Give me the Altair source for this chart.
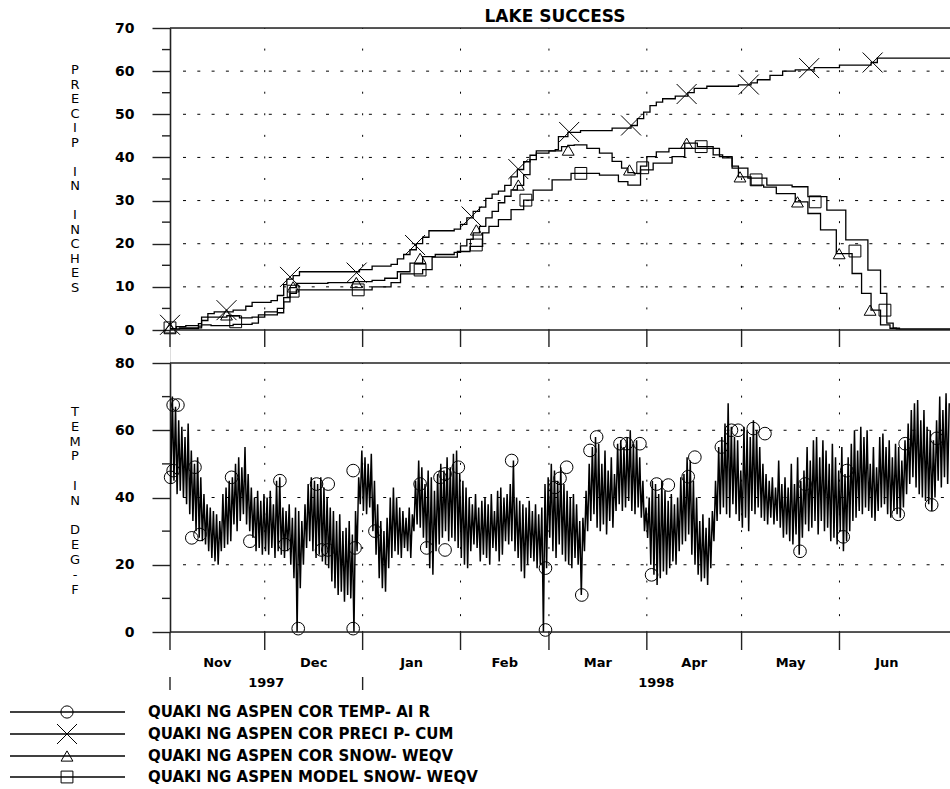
import altair as alt
import pandas as pd

# ---------------- data ----------------
# day index 0 = 1 Nov 1997
TMAX = [70, 67, 63, 61, 58, 62, 54, 50, 52, 46,
        41, 38, 37, 36, 35, 33, 41, 43, 45, 46,
        50, 52, 49, 55, 47, 43, 40, 42, 39, 41,
        40, 42, 38, 45, 46, 37, 36, 38, 34, 37,
        36, 33, 38, 44, 46, 45, 44, 46, 43, 40,
        37, 36, 33, 35, 30, 31, 33, 29, 36, 46,
        54, 52, 50, 53, 45, 38, 33, 30, 34, 40,
        43, 40, 37, 36, 34, 37, 35, 45, 51, 49,
        44, 48, 46, 42, 47, 50, 48, 52, 49, 53,
        54, 47, 45, 43, 40, 38, 41, 37, 39, 40,
        38, 41, 36, 42, 43, 40, 41, 44, 51, 40,
        39, 38, 37, 39, 36, 38, 35, 37, 44, 46,
        50, 48, 45, 49, 44, 42, 40, 41, 38, 33,
        34, 42, 50, 55, 58, 56, 50, 54, 48, 52,
        47, 56, 57, 55, 58, 60, 56, 57, 52, 45,
        37, 40, 45, 44, 41, 45, 42, 39, 41, 38,
        40, 46, 47, 52, 51, 45, 40, 33, 35, 31,
        34, 36, 45, 55, 58, 62, 68, 61, 58, 57,
        48, 61, 60, 58, 63, 60, 55, 50, 47, 45,
        46, 43, 51, 44, 46, 43, 50, 44, 52, 45,
        48, 55, 51, 57, 58, 52, 57, 54, 50, 56,
        52, 48, 55, 47, 52, 56, 60, 54, 61, 58,
        60, 50, 55, 49, 58, 59, 55, 57, 52, 56,
        55, 51, 57, 62, 66, 68, 69, 63, 66, 61,
        60, 57, 63, 70, 66, 71, 68]
TMIN = [44, 45, 41, 42, 40, 38, 35, 33, 30, 28,
        27, 26, 24, 22, 21, 20, 24, 25, 26, 27,
        32, 30, 33, 35, 32, 30, 28, 24, 25, 23,
        24, 23, 25, 22, 24, 23, 22, 24, 20, 16,
        0, 13, 20, 25, 27, 24, 22, 23, 21, 20,
        19, 15, 13, 11, 12, 9, 11, 10, 0, 24,
        38, 36, 35, 37, 30, 23, 16, 13, 12, 19,
        22, 24, 23, 22, 25, 24, 22, 30, 32, 31,
        28, 25, 19, 17, 24, 26, 28, 30, 27, 28,
        27, 25, 22, 20, 19, 24, 26, 25, 21, 23,
        22, 20, 25, 24, 21, 23, 27, 26, 27, 24,
        22, 18, 16, 20, 22, 21, 19, 20, 0, 19,
        28, 24, 22, 26, 23, 21, 20, 19, 22, 20,
        11, 24, 30, 33, 35, 31, 30, 32, 29, 33,
        31, 36, 38, 36, 37, 39, 36, 35, 37, 34,
        30, 28, 20, 17, 14, 16, 18, 17, 19, 21,
        20, 24, 26, 27, 29, 23, 20, 17, 15, 16,
        14, 19, 27, 33, 35, 37, 35, 34, 38, 35,
        33, 31, 34, 30, 36, 35, 37, 34, 33, 32,
        34, 32, 33, 31, 28, 29, 27, 26, 29, 23,
        28, 32, 30, 31, 33, 29, 33, 30, 31, 27,
        28, 26, 30, 24, 27, 30, 33, 34, 36, 35,
        37, 36, 34, 33, 36, 37, 38, 35, 34, 36,
        35, 34, 37, 41, 44, 46, 43, 41, 40, 39,
        38, 36, 40, 45, 43, 46, 44]

TEMP_MARK_DAY = [1.0, 1.0, 2.5, 0.2, 6.9, 7.9, 9.5, 19.5, 25.3, 34.8, 36.4, 40.6,
                 46.4, 48.0, 50.1, 50.0, 58.0, 58.0, 58.6, 64.9, 79.2, 81.3, 85.5,
                 87.1, 87.1, 91.3, 108.2, 118.9, 118.9, 121.9, 123.5, 125.6, 130.4,
                 133.0, 135.1, 142.5, 144.6, 148.8, 152.5, 154.1, 157.8, 164.1, 166.2,
                 174.6, 177.8, 179.9, 184.7, 188.4, 199.5, 201.1, 213.2, 214.3, 230.6,
                 232.8, 241.2, 242.8]
TEMP_MARK_VAL = [67.5, 48, 67.5, 46, 28, 49, 29, 46, 27, 45, 26, 1,
                 44, 24.4, 44, 24.4, 1, 48, 25, 30, 44, 25, 46,
                 47, 24.4, 49, 51, 19, 0.6, 43, 45.7, 49, 11,
                 54, 58, 56, 56, 56, 17, 44, 43.7, 46.2, 52,
                 55, 60, 60, 60.5, 59, 24, 44, 28.3, 48, 35,
                 56, 37.8, 57.6]

CUM_DAY = [0, 2, 5, 9, 10, 12, 14, 20, 24, 26, 32, 34, 36, 37, 39, 41, 58, 60, 64, 70,
           72, 74, 76, 78, 80, 82, 90, 92, 94, 96, 98, 100, 102, 104, 106, 108, 110, 112,
           114, 116, 122, 123, 126, 130, 140, 146, 148, 150, 152, 154, 156, 160, 164, 166,
           170, 180, 184, 186, 190, 194, 198, 204, 212, 222, 224, 247]
CUM_VAL = [0.3, 0.8, 1.0, 1.5, 3.0, 3.8, 4.2, 4.6, 5.5, 6.4, 6.8, 8.0, 10.5, 11.8, 12.6,
           13.5, 13.5, 14.0, 14.8, 15.2, 16.5, 17.5, 18.6, 20.0, 21.5, 23.0, 23.4, 24.5,
           26.0, 27.5, 28.5, 30.5, 31.5, 32.2, 33.5, 35.5, 37.2, 39.0, 40.5, 41.5, 41.8,
           44.8, 45.8, 46.2, 46.8, 47.4, 49.0, 50.5, 52.0, 52.8, 53.6, 54.2, 55.0, 56.0,
           56.5, 56.8, 57.3, 58.0, 59.0, 60.0, 60.3, 60.8, 61.4, 62.0, 63.0, 63.0]
CUM_MARK_DAY = [0, 17.9, 38, 59.1, 77.6, 95.5, 110.3, 126.4, 146, 163.6, 183.3, 202.4, 222.5]
CUM_MARK_VAL = [1.2, 4.6, 12.3, 13.3, 19.7, 26.3, 37.3, 45.9, 47.4, 54.7, 56.9, 60.7, 62.0]

COR_DAY = [0, 3, 9, 10, 12, 18, 22, 26, 30, 34, 36, 38, 40, 50, 58, 64, 68, 72, 76, 80,
           84, 90, 92, 94, 96, 98, 100, 102, 104, 106, 108, 110, 112, 114, 116, 120, 124,
           126, 128, 132, 136, 140, 143, 145, 147, 149, 151, 154, 158, 163, 167, 172, 175,
           178, 180, 184, 188, 192, 198, 202, 206, 211, 216, 219, 222, 225, 228, 230, 247]
COR_VAL = [0.2, 0.5, 0.9, 2.2, 3.0, 3.3, 2.8, 3.0, 4.2, 5.0, 7.5, 9.8, 10.8, 11.0, 11.2,
           11.5, 12.0, 13.5, 15.5, 17.0, 17.5, 18.0, 19.5, 21.0, 22.5, 24.0, 26.0, 27.5,
           29.5, 31.0, 32.5, 33.5, 36.0, 39.5, 41.0, 41.5, 42.5, 42.8, 42.9, 42.1, 41.0,
           39.1, 37.5, 36.5, 36.3, 38.0, 40.2, 41.3, 42.1, 43.3, 42.5, 40.6, 39.9, 38.0,
           35.5, 33.6, 33.1, 31.6, 29.7, 27.0, 23.2, 17.7, 13.1, 8.5, 4.6, 1.2, 0.4, 0.2, 0.2]
COR_MARK_DAY = [0, 17.9, 39, 59, 79.2, 97, 110.3, 126.1, 145.5, 163.6, 180.5, 198.7, 211.9, 221.7]
COR_MARK_VAL = [0.5, 3.5, 10.0, 11.0, 16.6, 23.2, 33.6, 41.7, 37.1, 43.3, 35.5, 29.7, 17.7, 4.6]

MOD_DAY = [0, 3, 9, 10, 13, 20, 26, 28, 34, 36, 38, 40, 58, 64, 70, 73, 80, 83, 91, 95,
           99, 101, 104, 108, 112, 115, 121, 127, 136, 142, 145, 149, 153, 159, 163, 170,
           174, 178, 183, 189, 197, 202, 208, 214, 221, 225, 227, 229, 231, 247]
MOD_VAL = [0.2, 0.3, 0.5, 1.2, 1.0, 1.3, 1.6, 3.5, 4.0, 6.5, 8.5, 9.3, 9.3, 10.0, 11.0,
           13.0, 14.0, 16.9, 18.2, 19.4, 22.5, 24.0, 25.6, 27.9, 30.1, 32.4, 34.8, 36.3,
           35.9, 34.4, 33.6, 37.1, 38.7, 40.2, 42.1, 42.1, 40.2, 37.5, 35.2, 33.6, 33.2,
           30.9, 27.8, 20.9, 13.9, 8.5, 1.6, 0.4, 0.2, 0.2]
MOD_MARK_DAY = [0, 20.8, 39, 59.6, 79.2, 97, 112.7, 130.1, 149.7, 168.2, 185.6, 204.3, 216.9, 226.4]
MOD_MARK_VAL = [0.5, 1.9, 9.0, 9.3, 13.9, 19.7, 30.1, 36.3, 37.6, 42.5, 34.8, 29.7, 18.3, 4.6]

MONTH_NAMES = ["Nov", "Dec", "Jan", "Feb", "Mar", "Apr", "May", "Jun"]
MONTH_START = [0, 30, 61, 92, 120, 151, 181, 212]
MONTH_MID = [15, 45.5, 76.5, 106, 135.5, 166, 196.5, 227]
YEAR_LABELS = ["1997", "1998"]
YEAR_MID = [30.5, 154]
YEAR_TICKS = [0, 61]

TITLE = "LAKE  SUCCESS"
TOP_TITLE = "PRECIP IN INCHES"
BOT_TITLE = "TEMP IN DEG-F"
TOP_TICKS = [0, 10, 20, 30, 40, 50, 60, 70]
TOP_MINOR = [5, 15, 25, 35, 45, 55, 65]
TOP_GRID = [10, 20, 30, 40, 50, 60]
BOT_TICKS = [0, 20, 40, 60, 80]
BOT_MINOR = [10, 30, 50, 70]
BOT_GRID = [20, 40, 60]
LEGEND_LABELS = ["QUAKI NG  ASPEN  COR  TEMP- AI R",
                 "QUAKI NG  ASPEN  COR  PRECI P- CUM",
                 "QUAKI NG  ASPEN  COR  SNOW- WEQV",
                 "QUAKI NG  ASPEN  MODEL  SNOW- WEQV"]

# ---------------- layout / style ----------------
FONT = "DejaVu Sans"
W, H = 780, 604
TOP_H = 302
BOT_Y0, BOT_Y1 = 335, 604
AX = "#222222"
XPATH = "M-1,-1L1,1M-1,1L1,-1"
LEG_Y = [684, 706, 728, 749]
LEG_SHAPES = ["circle", XPATH, "triangle-up", "square"]
LEG_SIZES = [150, 400, 140, 140]


def df(**cols):
    return pd.DataFrame(cols)


x_enc = alt.X("day:Q", scale=alt.Scale(domain=[0, 247], nice=False, zero=False), axis=None)
ytop = alt.Scale(domain=[0, 70], range=[TOP_H, 0], nice=False, zero=False)
ybot = alt.Scale(domain=[0, 80], range=[BOT_Y1, BOT_Y0], nice=False, zero=False)

axis_common = dict(orient="left", tickSize=18, labelPadding=18, domain=True, grid=False,
                   domainColor=AX, domainWidth=1.6, tickColor=AX, tickWidth=1.4,
                   labelFont=FONT, labelFontSize=14, labelFontWeight="bold", labelColor="black",
                   format="d", title=None)
ytop_axis = alt.Axis(values=TOP_TICKS, **axis_common)
ybot_axis = alt.Axis(values=BOT_TICKS, **axis_common)

layers = []

# dotted grids
layers.append(alt.Chart(df(v=TOP_GRID)).mark_rule(color="black", strokeWidth=1, strokeDash=[3, 11.3]).encode(
    y=alt.Y("v:Q", scale=ytop, axis=None), x=alt.value(13), x2=alt.value(W)))
layers.append(alt.Chart(df(v=BOT_GRID)).mark_rule(color="black", strokeWidth=1, strokeDash=[3, 11.3]).encode(
    y=alt.Y("v:Q", scale=ybot, axis=None), x=alt.value(13), x2=alt.value(W)))
layers.append(alt.Chart(df(day=MONTH_START[1:])).mark_rule(
    color="black", strokeWidth=1, strokeDash=[2, 19.57], strokeDashOffset=1).encode(
    x=x_enc, y=alt.value(0), y2=alt.value(TOP_H)))
layers.append(alt.Chart(df(day=MONTH_START[1:])).mark_rule(
    color="black", strokeWidth=1, strokeDash=[2, 14.81], strokeDashOffset=1).encode(
    x=x_enc, y=alt.value(BOT_Y0), y2=alt.value(BOT_Y1)))

# temperature trace (daily low / high)
t_day, t_val = [], []
for i, (lo, hi) in enumerate(zip(TMIN, TMAX)):
    t_day += [i + 0.25, i + 0.75]
    t_val += [lo, hi]
layers.append(alt.Chart(df(day=t_day, v=t_val)).mark_line(color="black", strokeWidth=1.5).encode(
    x=x_enc, y=alt.Y("v:Q", scale=ybot, axis=ybot_axis)))
layers.append(alt.Chart(df(day=TEMP_MARK_DAY, v=TEMP_MARK_VAL)).mark_point(
    shape="circle", size=160, filled=False, color="black", strokeWidth=1, opacity=1).encode(
    x=x_enc, y=alt.Y("v:Q", scale=ybot, axis=None)))

# precipitation / snow lines
layers.append(alt.Chart(df(day=CUM_DAY, v=CUM_VAL)).mark_line(
    interpolate="step-after", color="black", strokeWidth=1.3).encode(
    x=x_enc, y=alt.Y("v:Q", scale=ytop, axis=ytop_axis)))
layers.append(alt.Chart(df(day=COR_DAY, v=COR_VAL)).mark_line(
    interpolate="step-after", color="black", strokeWidth=1.3).encode(
    x=x_enc, y=alt.Y("v:Q", scale=ytop, axis=None)))
layers.append(alt.Chart(df(day=MOD_DAY, v=MOD_VAL)).mark_line(
    interpolate="step-after", color="black", strokeWidth=1.3).encode(
    x=x_enc, y=alt.Y("v:Q", scale=ytop, axis=None)))
for mdays, mvals, shp, sz in [(CUM_MARK_DAY, CUM_MARK_VAL, XPATH, 400),
                              (COR_MARK_DAY, COR_MARK_VAL, "triangle-up", 140),
                              (MOD_MARK_DAY, MOD_MARK_VAL, "square", 140)]:
    layers.append(alt.Chart(df(day=mdays, v=mvals)).mark_point(
        shape=shp, size=sz, filled=False, color="black", strokeWidth=1, opacity=1).encode(
        x=x_enc, y=alt.Y("v:Q", scale=ytop, axis=None)))

# frame lines
for yy in [0, TOP_H, BOT_Y0, BOT_Y1]:
    layers.append(alt.Chart(df(a=[0])).mark_rule(color=AX, strokeWidth=1.6).encode(
        x=alt.value(0), x2=alt.value(W), y=alt.value(yy)))

# month ticks below each panel and year ticks
for y1, y2, days in [(TOP_H, TOP_H + 17, MONTH_START), (BOT_Y1, BOT_Y1 + 18, MONTH_START),
                     (BOT_Y1 + 45, BOT_Y1 + 58, YEAR_TICKS)]:
    layers.append(alt.Chart(df(day=days)).mark_rule(color=AX, strokeWidth=1.4).encode(
        x=x_enc, y=alt.value(y1), y2=alt.value(y2)))

# minor y ticks
layers.append(alt.Chart(df(v=TOP_MINOR)).mark_rule(color=AX, strokeWidth=1.4).encode(
    y=alt.Y("v:Q", scale=ytop, axis=None), x=alt.value(-8), x2=alt.value(0)))
layers.append(alt.Chart(df(v=BOT_MINOR)).mark_rule(color=AX, strokeWidth=1.4).encode(
    y=alt.Y("v:Q", scale=ybot, axis=None), x=alt.value(-8), x2=alt.value(0)))

# stacked (one letter per line) y-axis titles, one text per word
for title, top, pitch in [(TOP_TITLE, 36, 14.5), (BOT_TITLE, 378, 14.8)]:
    words = title.split(" ")
    line = 0
    for w in words:
        layers.append(alt.Chart(df(a=[0])).mark_text(
            font=FONT, fontSize=13, color="black", align="center", baseline="top",
            lineHeight=pitch).encode(
            x=alt.value(-95), y=alt.value(top + line * pitch), text=alt.value(list(w))))
        line += len(w) + 1

# month and year labels
layers.append(alt.Chart(df(day=MONTH_MID, t=MONTH_NAMES)).mark_text(
    font=FONT, fontSize=13, fontWeight="bold", color="black", baseline="middle", align="center").encode(
    x=x_enc, y=alt.value(BOT_Y1 + 31), text="t:N"))
layers.append(alt.Chart(df(day=YEAR_MID, t=YEAR_LABELS)).mark_text(
    font=FONT, fontSize=13, fontWeight="bold", color="black", baseline="middle", align="center").encode(
    x=x_enc, y=alt.value(BOT_Y1 + 51), text="t:N"))

# title
layers.append(alt.Chart(df(t=[TITLE])).mark_text(
    font=FONT, fontSize=17, fontWeight="bold", color="black", baseline="middle", align="center").encode(
    x=alt.value(385), y=alt.value(-11), text="t:N"))

# legend
for i in range(4):
    d = df(t=[LEGEND_LABELS[i]])
    layers.append(alt.Chart(d).mark_rule(color="black", strokeWidth=1.3).encode(
        x=alt.value(-160), x2=alt.value(-45), y=alt.value(LEG_Y[i])))
    layers.append(alt.Chart(d).mark_point(
        shape=LEG_SHAPES[i], size=LEG_SIZES[i], filled=False, color="black", strokeWidth=1, opacity=1).encode(
        x=alt.value(-103), y=alt.value(LEG_Y[i])))
    layers.append(alt.Chart(d).mark_text(
        font=FONT, fontSize=15, fontWeight="bold", color="black", baseline="middle", align="left").encode(
        x=alt.value(-22), y=alt.value(LEG_Y[i]), text="t:N"))

chart = alt.layer(*layers).resolve_scale(y="independent").properties(
    width=W, height=H,
    autosize=alt.AutoSizeParams(type="none"),
    padding={"left": 170, "top": 28, "right": 0, "bottom": 157},
).configure_view(stroke=None).configure(background="white")

chart.save("out.html", embed_options={"renderer": "svg", "actions": False})
